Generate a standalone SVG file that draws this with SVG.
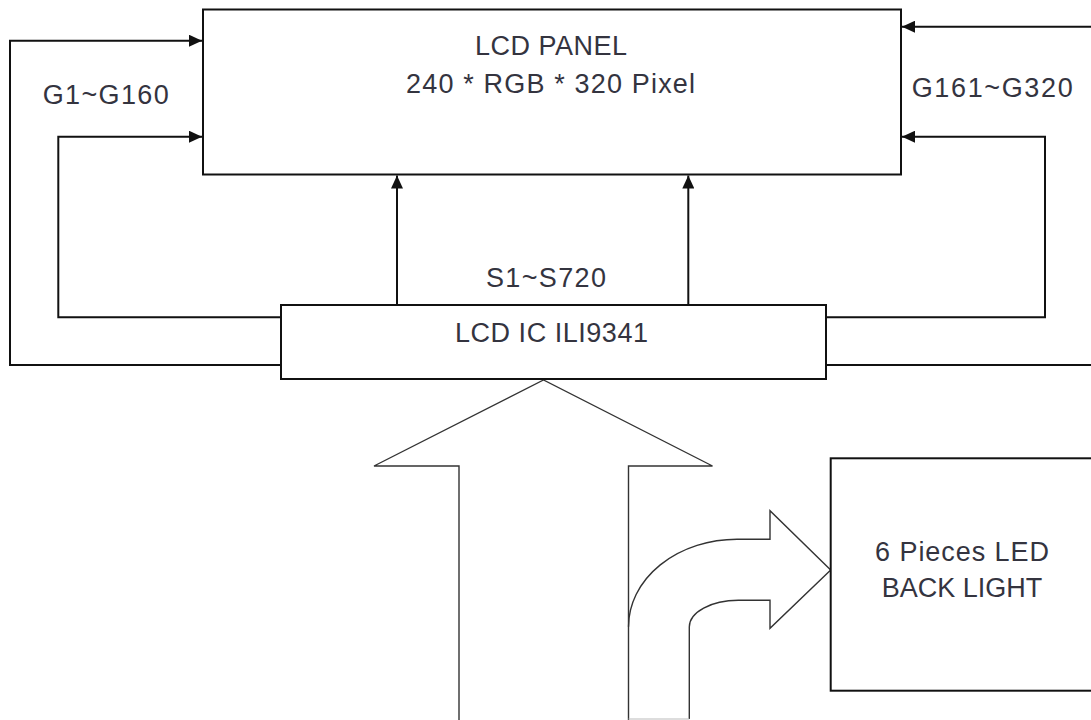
<svg xmlns="http://www.w3.org/2000/svg" width="1091" height="720" viewBox="0 0 1091 720">
  <defs>
    <marker id="ah" markerUnits="userSpaceOnUse" markerWidth="13" markerHeight="12" refX="13" refY="6" orient="auto">
      <path d="M0,0 L13,6 L0,12 z" fill="#111"/>
    </marker>
    <style>
      .box { fill: #fff; stroke: #111; stroke-width: 2; }
      .wire { fill: none; stroke: #111; stroke-width: 2; }
      .blk { fill: none; stroke: #333; stroke-width: 1.4; stroke-linejoin: miter; }
      .lbl { font-family: "Liberation Sans", Arial, sans-serif; font-size: 27px; fill: #34343f; }
    </style>
  </defs>
  <rect width="1091" height="720" fill="#fff"/>

  <g id="connectors">
    <path class="wire" d="M281,365 H10 V40.7 H202" marker-end="url(#ah)"/>
    <path class="wire" d="M281,317.3 H58.3 V136.7 H202" marker-end="url(#ah)"/>
    <path class="wire" d="M1091,26.7 H902" marker-end="url(#ah)"/>
    <path class="wire" d="M826,317.3 H1045 V136.7 H902" marker-end="url(#ah)"/>
    <path class="wire" d="M826,365 H1091"/>
    <path class="wire" d="M397,305 V175.5" marker-end="url(#ah)"/>
    <path class="wire" d="M688.3,305 V175.5" marker-end="url(#ah)"/>
    <!-- big block arrow up into IC -->
    <path class="blk" d="M459,720 V466 H374 L543.5,380 L712.5,466 H628.5 V720"/>
    <!-- bent block arrow to backlight -->
    <path class="blk" d="M628.5,626.7 A108.5,87.4 0 0 1 737,539.3 H770 V510.7 L830.7,570 L770,628.3 V600.3 H738.3 A49,26.7 0 0 0 689.3,627 V719"/>
    <path d="M628.5,719 H689.3" stroke="#bbb" stroke-width="1.2" fill="none"/>
  </g>

  <g id="lcd-panel">
    <rect class="box" x="203" y="9.5" width="698" height="165"/>
    <text class="lbl" x="475" y="55" textLength="152" lengthAdjust="spacing">LCD PANEL</text>
    <text class="lbl" x="406" y="93" textLength="289" lengthAdjust="spacing">240 * RGB * 320 Pixel</text>
  </g>

  <g id="label-g1-g160">
    <text class="lbl" x="42.7" y="104" textLength="126" lengthAdjust="spacing">G1~G160</text>
  </g>
  <g id="label-g161-g320">
    <text class="lbl" x="911.7" y="96.7" textLength="161" lengthAdjust="spacing">G161~G320</text>
  </g>
  <g id="label-s1-s720">
    <text class="lbl" x="486" y="287" textLength="120" lengthAdjust="spacing">S1~S720</text>
  </g>

  <g id="lcd-ic">
    <rect class="box" x="281" y="305" width="545" height="74"/>
    <text class="lbl" x="455" y="341.7" textLength="193" lengthAdjust="spacing">LCD IC ILI9341</text>
  </g>

  <g id="backlight">
    <rect class="box" x="830.7" y="458.3" width="300" height="232.4"/>
    <text class="lbl" x="875" y="560.7" textLength="174" lengthAdjust="spacing">6 Pieces LED</text>
    <text class="lbl" x="881.7" y="596.7" textLength="160.6" lengthAdjust="spacing">BACK LIGHT</text>
  </g>
</svg>
